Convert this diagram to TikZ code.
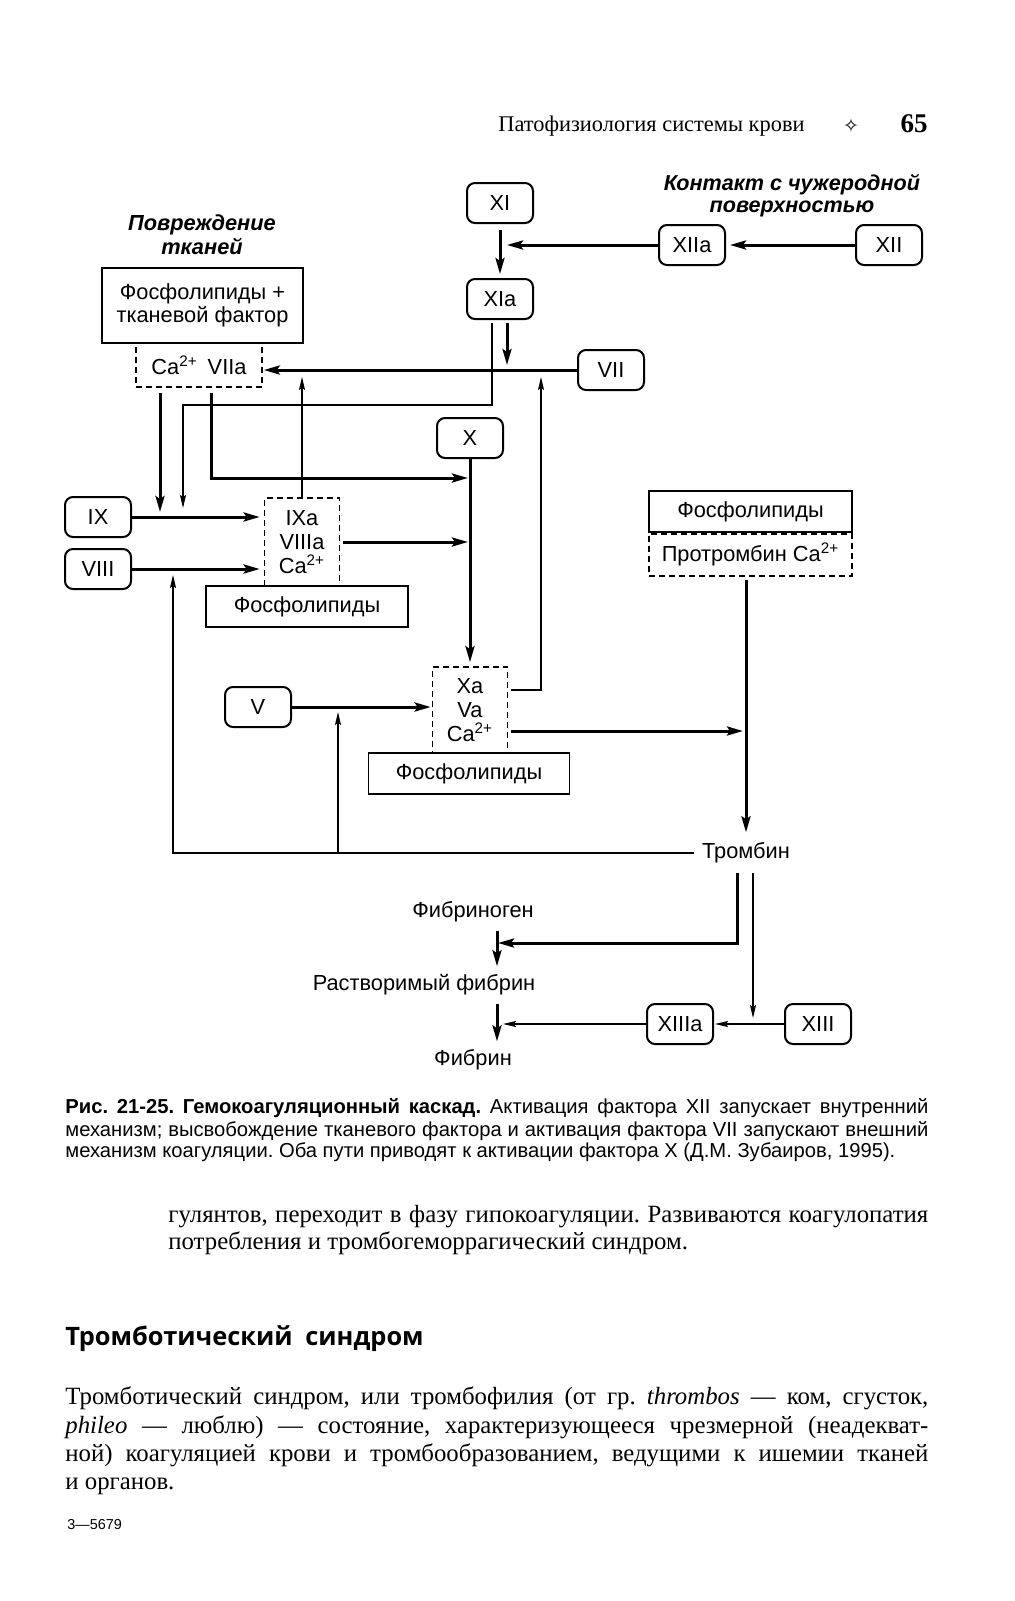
\documentclass[tikz,border=0pt]{standalone}
\usepackage{fontspec}
\setmainfont{Liberation Serif}
\setsansfont{Liberation Sans}
\newfontfamily\secfont{Open Sans}
\newfontfamily\starfont{DejaVu Sans}
\usetikzlibrary{arrows.meta, positioning, calc}

\newcommand{\diagfont}{\sffamily\fontsize{10.9}{12}\selectfont}
\newcommand{\capfont}{\sffamily\fontsize{10.1}{11}\selectfont}
\newcommand{\txtfont}{\rmfamily\fontsize{12.4}{14}\selectfont}
\newcommand{\cac}{Ca\textsuperscript{2+}}

\tikzset{
  factor/.style={draw, line width=1pt, rounded corners=4pt, fill=white,
    minimum width=33pt, minimum height=20pt, inner sep=0pt, font=\diagfont},
  phosbox/.style={draw, line width=0.9pt, fill=white, inner sep=0pt,
    minimum height=20.5pt, font=\diagfont, align=center},
  cabox/.style={draw, line width=0.8pt, dash pattern=on 3pt off 2pt,
    inner sep=0pt, font=\diagfont, align=center},
  mainpath/.style={line width=1.5pt, -{Stealth[length=8pt, width=4.5pt, inset=1.5pt]}},
  sidepath/.style={line width=0.6pt, -{Stealth[length=6.5pt, width=3pt, inset=1pt]}},
  textline/.style={anchor=base west, inner sep=0pt},
}

\frenchspacing

\begin{document}
\begin{tikzpicture}[x=0.5pt, y=-0.5pt]
  \fill[white] (0,0) rectangle (1014,1601);
  \useasboundingbox (0,0) rectangle (1014,1601);

  % running head
  \node[textline, font=\rmfamily\fontsize{11.2}{13}\selectfont] (runhead) at (498,131) {Патофизиология системы крови};
  \node[inner sep=0pt, font=\starfont\fontsize{9.5}{11}\selectfont] (hstar) at (851,126) {✧};
  \node[anchor=base east, inner sep=0pt, font=\rmfamily\bfseries\fontsize{13.5}{16}\selectfont] (pagenum) at (928,132) {65};

  % source labels
  \node[font=\diagfont\bfseries\itshape, align=center] (injury) at (202,235) {Повреждение\\тканей};
  \node[font={\sffamily\bfseries\itshape\fontsize{10.8}{11}\selectfont}, align=center] (contact) at (792,196) {Контакт с чужеродной\\поверхностью};

  % factors
  \node[factor] (xi) at (500,203) {XI};
  \node[factor, below=27pt of xi] (xia) {XIa};
  \node[factor] (xiia) at (692,245) {XIIa};
  \node[factor] (xii) at (889,245) {XII};
  \node[factor] (vii) at (611,370) {VII};
  \node[factor] (x) at (470,438) {X};
  \node[factor] (ix) at (98,517) {IX};
  \node[factor, below=5pt of ix] (viii) {VIII};
  \node[factor] (v) at (258,707) {V};
  \node[factor] (xiiia) at (680,1024) {XIIIa};
  \node[factor] (xiii) at (818,1024) {XIII};

  % complexes
  \node[cabox, minimum width=63pt, minimum height=22pt] (cav) at (199,365) {\cac\hspace{5pt}VIIa};
  \node[phosbox, minimum width=100.5pt, minimum height=37.5pt, font={\sffamily\fontsize{10.9}{11.5}\selectfont}] (plt) at (202.5,305.5) {Фосфолипиды +\\тканевой фактор};
  \node[cabox, minimum width=37.5pt, minimum height=44pt] (ixa) at (302,542) {IXa\\VIIIa\\\cac};
  \node[phosbox, minimum width=101pt] (ph2) at (307,606.5) {Фосфолипиды};
  \node[cabox, minimum width=37.5pt, minimum height=43pt] (xa) at (470,710) {Xa\\Va\\\cac};
  \node[phosbox, minimum width=100.5pt] (ph3) at (469,773.5) {Фосфолипиды};
  \node[phosbox, minimum width=101.5pt] (ph4) at (750.5,511.5) {Фосфолипиды};
  \node[cabox, minimum width=101.5pt, minimum height=21pt, below=0pt of ph4] (pt) {Протромбин \cac};

  % products
  \node[font=\diagfont, inner sep=2pt] (thrombin) at (746,853) {Тромбин};
  \node[font=\diagfont, inner sep=2pt] (fibrinogen) at (473,912) {Фибриноген};
  \node[font=\diagfont, inner sep=2pt] (solfibrin) at (424,985) {Растворимый фибрин};
  \node[font=\diagfont, inner sep=2pt] (fibrin) at (473,1060) {Фибрин};

  \coordinate (xiaout) at ($(xia.south)+(7,0)$);
  \coordinate (xialeft) at ($(xia.south)+(-8,0)$);
  \coordinate (ixjoina) at (160,517);
  \coordinate (ixjoinb) at (183,517);
  \coordinate (xjoina) at (470,478);
  \coordinate (viijoin) at (541,370);
  \coordinate (xaout) at ($(xa.east)+(0,21)$);
  \coordinate (fbleft) at (173,853);
  \coordinate (fbmid) at (338,853);
  \coordinate (fibline) at (497,943);
  \coordinate (xiiijoin) at (753,1024);

  % intrinsic path
  \draw[mainpath, shorten <=3pt, shorten >=2pt] (xi) -- (xia);
  \draw[mainpath, shorten >=3.5pt] (xiia.west) -- (xiia.west -| xi.south);
  \draw[mainpath, shorten >=2pt] (xii) -- (xiia);
  \draw[mainpath, shorten <=1.5pt, shorten >=2.5pt] (xiaout) -- (xiaout |- vii.west);
  \draw[sidepath, shorten <=1.5pt, shorten >=4.5pt] (xialeft) -- ++(0,85) -| (ixjoinb);

  % extrinsic path
  \draw[mainpath, shorten >=0.5pt] (vii) -- (vii -| cav.east);
  \draw[mainpath, shorten >=2.5pt] (cav.south) ++(-39,5) -- (ixjoina);
  \draw[mainpath, shorten >=1pt] (cav.south) ++(12,5) |- (xjoina);

  \draw[mainpath, shorten >=2pt] (ix) -- (ix -| ixa.west);
  \draw[mainpath, shorten >=2pt] (viii) -- (viii -| ixa.west);
  \draw[sidepath, shorten >=3.5pt] (ixa.north) -- (ixa.north |- vii.west);
  \draw[mainpath, shorten <=1.5pt, shorten >=1pt] (ixa.east) -- (ixa.east -| x.south);

  % common path
  \draw[mainpath, shorten >=2pt] (x) -- (xa);
  \draw[sidepath, shorten <=1.5pt, shorten >=3.5pt] ($(xa.east)+(0,-20)$) -| (viijoin);
  \draw[mainpath, shorten <=1.5pt, shorten >=1.5pt] (xaout) -- (xaout -| thrombin.north);
  \draw[mainpath, shorten >=0.5pt] (v) -- (v -| xa.west);
  \draw[mainpath, shorten >=3pt] (thrombin.north |- pt.south) ++(0,3) -- (thrombin.north);

  % thrombin feedback
  \draw[sidepath, shorten <=2pt, shorten >=3pt] (thrombin.west) -| (viii.east -| fbleft);
  \draw[sidepath, shorten >=2.5pt] (fbmid) -- (fbmid |- v.east);

  % fibrin formation
  \draw[mainpath, shorten >=0.5pt] ($(thrombin.south)+(-9,5)$) |- (fibline);
  \draw[sidepath, shorten >=3pt] ($(thrombin.south)+(7,5)$) -- (xiiijoin);
  \draw[mainpath, shorten <=2pt, shorten >=2pt] (fibrinogen.south -| fibline) -- (solfibrin.north -| fibline);
  \draw[mainpath, shorten <=2pt, shorten >=2pt] (solfibrin.south -| fibline) -- (fibrin.north -| fibline);
  \draw[sidepath, shorten >=0.5pt] (xiii) -- (xiiia);
  \draw[sidepath, shorten >=3pt] (xiiia) -- (xiiia -| fibline);

  % caption
  \node[textline, font=\capfont] (cap1) at (65,1113) {\makebox[431.5pt][s]{{\bfseries Рис. 21-25. Гемокоагуляционный каскад.} Активация фактора XII запускает внутренний}};
  \node[textline, font=\capfont] (cap2) at (65,1136) {\makebox[431.5pt][s]{механизм; высвобождение тканевого фактора и активация фактора VII запускают внешний}};
  \node[textline, font=\capfont] (cap3) at (65,1157) {механизм коагуляции. Оба пути приводят к активации фактора X (Д.М. Зубаиров, 1995).};

  % body text
  \node[textline, font=\txtfont] (para1a) at (168,1222) {\makebox[380pt][s]{гулянтов, переходит в фазу гипокоагуляции. Развиваются коагулопатия}};
  \node[textline, font=\txtfont] (para1b) at (168,1249) {потребления и тромбогеморрагический синдром.};

  \node[textline, font={\secfont\bfseries\fontsize{12.7}{16}\selectfont}] (sechead) at (65,1345) {Тромботический\hspace{0.5em}синдром};

  \node[textline, font=\txtfont] (para2a) at (65,1404) {\makebox[431.5pt][s]{Тромботический синдром, или тромбофилия (от гр. \textit{thrombos} — ком, сгусток,}};
  \node[textline, font=\txtfont] (para2b) at (65,1433) {\makebox[431.5pt][s]{\textit{phileo} — люблю) — состояние, характеризующееся чрезмерной (неадекват-}};
  \node[textline, font=\txtfont] (para2c) at (65,1461) {\makebox[431.5pt][s]{ной) коагуляцией крови и тромбообразованием, ведущими к ишемии тканей}};
  \node[textline, font=\txtfont] (para2d) at (65,1489) {и органов.};

  \node[textline, font={\sffamily\fontsize{7.2}{9}\selectfont}] (sheet) at (67,1529) {3—5679};
\end{tikzpicture}
\end{document}
